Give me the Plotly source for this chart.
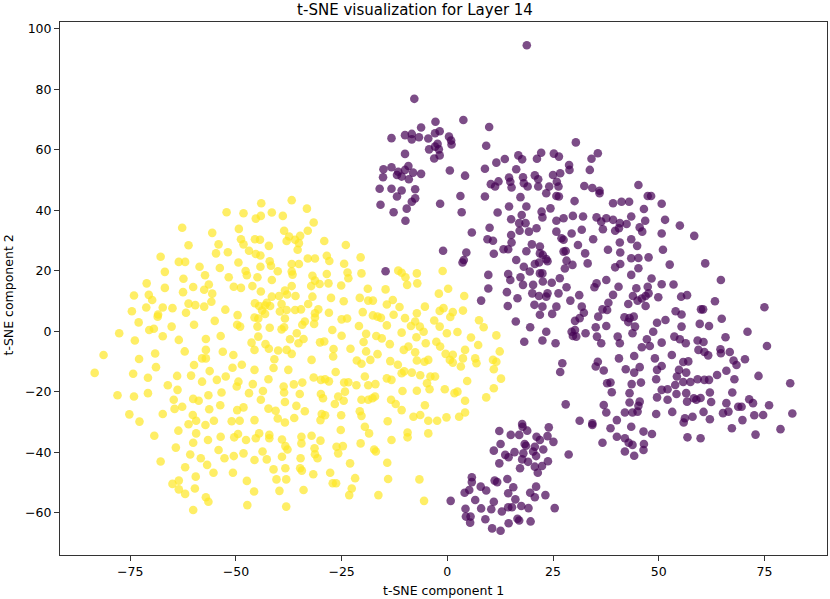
import plotly.graph_objects as go

# t-SNE coordinates, (component 1, component 2)
yellow_points = [
    (-52.2, 39.3), (-62.7, 34.2), (-55.6, 32.5), (-61.2, 28.4), (-54.1, 28.7), (-54.7, 25.7),
    (-51.9, 26.1), (-67.8, 24.6), (-63.5, 22.9), (-62.0, 22.9), (-58.6, 21.3), (-53.8, 20.9),
    (-66.8, 19.6), (-57.3, 18.5), (-62.4, 17.3), (-51.7, 17.8), (-71.1, 15.8), (-56.4, 15.4),
    (-60.1, 14.6), (-66.8, 14.3), (-57.5, 13.7), (-62.5, 12.9), (-55.6, 12.4), (-74.1, 11.8),
    (-70.6, 12.0), (-69.8, 10.3), (-55.8, 9.7), (-61.2, 9.1), (-59.6, 8.6), (-57.5, 8.1),
    (-71.2, 7.8), (-67.3, 7.8), (-65.0, 7.6), (-74.6, 6.6), (-61.8, 6.1), (-68.4, 5.5),
    (-68.5, 4.8), (-52.5, 7.1), (-73.0, 2.9), (-59.9, 2.1), (-55.0, 3.4), (-77.6, -0.7),
    (-70.5, 0.4), (-69.4, 0.8), (-65.2, 1.5), (-67.3, -1.7), (-73.9, -3.1), (-63.5, -2.9),
    (-57.1, -2.6), (-53.6, -1.6), (-62.1, -6.7), (-69.1, -7.4), (-57.1, -6.2), (-53.1, -6.8),
    (-81.3, -7.9), (-72.9, -9.2), (-58.0, -9.0), (-57.1, -9.0), (-59.9, -11.2), (-68.9, -11.9),
    (-56.2, -13.2), (-52.4, -15.0), (-83.4, -13.8), (-74.3, -14.1), (-70.8, -15.4), (-63.9, -14.8),
    (-60.6, -14.7), (-58.0, -16.7), (-54.5, -16.1), (-66.1, -17.9), (-63.8, -19.4), (-78.0, -21.2),
    (-74.1, -21.6), (-70.8, -20.5), (-56.5, -21.2), (-53.4, -20.3), (-64.7, -22.7), (-60.1, -22.4),
    (-58.8, -23.0), (-62.7, -25.0), (-64.5, -25.7), (-53.7, -24.5), (-56.3, -25.8), (-75.2, -27.5),
    (-67.3, -27.4), (-60.2, -27.7), (-72.8, -29.9), (-59.4, -29.6), (-55.2, -29.6), (-61.2, -30.8),
    (-57.2, -31.0),
    (-69.3, -34.6), (-67.8, -43.1), (-64.2, -38.5), (-63.6, -32.9), (-62.0, -45.0), (-60.1, -36.9),
    (-60.8, -40.8), (-59.4, -33.8), (-59.5, -48.1), (-59.7, -52.0), (-60.1, -59.1), (-65.0, -50.5),
    (-63.5, -49.4), (-63.5, -52.3), (-62.0, -53.8), (-58.3, -42.0), (-57.1, -54.9), (-56.5, -56.4),
    (-56.8, -44.2), (-56.6, -36.0), (-55.3, -46.8), (-54.1, -39.3), (-53.6, -34.9), (-52.7, -42.0),
    (-50.7, -46.8), (-50.4, -35.1), (-49.5, -34.0), (-50.5, -41.3), (-48.2, -40.4), (-47.6, -36.0),
    (-47.4, -49.5), (-47.3, -57.5), (-45.7, -53.0), (-45.6, -42.6), (-45.3, -35.4), (-44.5, -33.8),
    (-43.7, -39.8), (-42.7, -42.4), (-42.1, -34.3), (-42.1, -35.4), (-41.1, -45.7), (-40.4, -49.0),
    (-39.7, -52.8), (-39.1, -35.8), (-39.1, -41.5), (-38.3, -38.0), (-37.8, -39.1), (-38.3, -45.3),
    (-38.1, -49.0), (-38.1, -58.0), (-34.5, -34.9), (-34.5, -37.1), (-34.7, -42.0), (-34.8, -45.3),
    (-34.4, -46.1), (-34.0, -52.5), (-32.1, -34.6), (-31.7, -47.3), (-31.3, -40.7), (-31.4, -38.7),
    (-30.7, -42.0), (-30.0, -36.2), (-27.7, -46.8), (-27.1, -50.3), (-26.3, -50.3), (-26.2, -38.2),
    (-25.8, -40.4), (-25.2, -32.7), (-24.7, -38.0), (-23.0, -43.7), (-23.2, -54.2), (-22.6, -52.0),
    (-21.8, -48.6), (-20.5, -37.1), (-19.5, -31.6), (-18.5, -33.8), (-17.3, -39.1), (-16.9, -39.8),
    (-16.3, -54.2), (-14.2, -43.5), (-14.0, -48.9), (-13.2, -36.0), (-9.4, -33.5), (-9.4, -35.1),
    (-6.6, -49.0), (-4.5, -33.8), (-5.5, -56.1),
    (-36.8, 43.3), (-44.0, 42.3), (-33.2, 40.5), (-48.2, 39.0), (-41.5, 39.2), (-38.9, 38.1),
    (-44.1, 38.1), (-45.3, 37.2), (-31.6, 35.9), (-49.3, 33.8), (-38.6, 33.2), (-33.0, 33.2),
    (-34.8, 31.5), (-37.4, 31.3), (-45.5, 30.4), (-44.3, 30.2), (-48.8, 30.4), (-48.2, 28.7),
    (-36.0, 30.2), (-35.1, 29.1), (-38.0, 29.8), (-29.1, 29.8), (-24.0, 28.5), (-42.2, 28.2),
    (-35.4, 26.9), (-46.9, 26.6), (-45.3, 25.5), (-44.2, 25.0), (-28.5, 24.9), (-20.5, 24.4),
    (-33.0, 24.0), (-31.3, 24.0), (-27.9, 23.2), (-49.4, 22.7), (-42.0, 23.1), (-41.7, 21.6),
    (-36.8, 22.2), (-35.1, 22.2), (-24.4, 22.3), (-47.7, 19.9), (-44.2, 21.3), (-40.1, 19.8),
    (-36.8, 19.7), (-47.4, 18.5), (-36.6, 18.7), (-28.5, 18.9), (-23.6, 19.4), (-20.3, 19.1),
    (-44.9, 17.8), (-31.9, 18.3), (-23.4, 17.5), (-31.3, 16.7), (-30.2, 15.6), (-32.2, 14.9),
    (-41.5, 16.9), (-28.1, 15.8), (-50.5, 14.7), (-48.8, 14.3), (-46.1, 14.9), (-25.1, 15.1),
    (-18.8, 14.0), (-44.1, 13.1), (-36.8, 14.9), (-38.4, 13.4), (-39.8, 11.6), (-41.5, 11.4),
    (-37.9, 12.1), (-35.9, 11.6), (-31.9, 11.4), (-27.5, 11.0), (-20.7, 11.0), (-24.5, 9.9),
    (-45.5, 9.2), (-44.5, 8.3), (-42.7, 9.4), (-43.1, 8.5), (-41.9, 8.3), (-39.2, 9.0),
    (-32.9, 9.0), (-18.7, 10.1), (-43.8, 6.8), (-38.0, 7.0), (-39.6, 6.5), (-36.0, 7.0),
    (-34.6, 7.2), (-30.5, 7.2), (-28.0, 6.1), (-20.0, 6.3), (-49.6, 5.3), (-43.1, 5.7),
    (-38.4, 4.2), (-31.3, 5.9), (-31.3, 4.5), (-33.7, 3.2), (-25.0, 3.9), (-23.7, 4.2),
    (-34.3, 2.1), (-31.5, 2.4), (-44.7, 4.2), (-45.6, 4.5), (-44.9, 1.5), (-42.0, 1.1),
    (-38.6, 1.3), (-39.2, 0.6), (-49.7, 2.1), (-49.0, 1.5), (-20.9, 1.7), (-27.2, 0.4),
    (-35.6, -0.7), (-34.0, -2.6), (-44.7, -1.8), (-25.0, -1.5), (-19.2, -0.9), (-37.2, -2.7),
    (-46.3, -3.8), (-30.1, -3.7), (-29.1, -3.4), (-35.2, -4.0), (-19.8, -3.6), (-43.0, -4.3),
    (-42.2, -5.8), (-45.6, -6.2), (-26.9, -5.9), (-40.0, -6.4), (-38.0, -6.2), (-36.8, -7.5),
    (-22.9, -5.8), (-19.2, -6.7), (-50.6, -7.9), (-40.9, -9.3), (-32.1, -9.5), (-27.0, -8.4),
    (-21.4, -9.7), (-20.3, -10.8), (-48.6, -11.1), (-50.8, -12.1), (-41.1, -12.2), (-45.6, -12.8),
    (-37.6, -12.8), (-26.4, -13.5), (-19.5, -15.0), (-31.6, -15.3), (-29.9, -16.1), (-28.0, -16.6),
    (-28.9, -15.9), (-24.4, -17.0), (-23.4, -16.9), (-42.3, -15.9), (-49.4, -16.7), (-49.8, -18.3),
    (-46.0, -17.5), (-36.3, -17.6), (-34.3, -17.0), (-21.5, -17.9), (-18.7, -17.9), (-38.7, -18.3),
    (-24.2, -20.0), (-38.6, -20.3), (-43.6, -19.8), (-46.9, -20.5), (-34.9, -20.8), (-29.9, -20.8),
    (-25.8, -21.6), (-29.4, -22.2), (-20.3, -22.7), (-18.7, -22.7), (-44.1, -22.7), (-38.4, -23.4),
    (-24.5, -23.0), (-26.6, -24.1), (-35.7, -24.7), (-48.2, -25.2), (-49.7, -26.1), (-33.7, -26.5),
    (-42.3, -25.6), (-40.6, -26.3), (-29.7, -27.4), (-28.9, -27.8), (-25.1, -27.8), (-20.7, -26.5),
    (-20.3, -28.0), (-45.6, -29.4), (-51.0, -29.8), (-49.1, -29.6), (-40.1, -28.9), (-36.2, -28.7),
    (-30.0, -29.4), (-38.4, -30.2),
    (-11.6, 20.0), (-10.8, 19.3), (-9.9, 17.8), (-7.2, 19.1), (-9.5, 15.3), (-7.1, 15.8),
    (-1.1, 19.9), (-14.6, 13.8), (0.2, 14.0), (-2.0, 12.4), (4.0, 11.6), (-17.6, 10.1),
    (-12.9, 10.3), (-14.3, 8.8), (-11.3, 8.0), (-5.3, 8.1), (-0.9, 7.6), (-1.8, 6.7),
    (1.3, 6.3), (3.7, 6.8), (0.7, 4.7), (-17.6, 5.2), (-16.5, 4.8), (-15.7, 4.4),
    (-12.7, 5.4), (-10.0, 4.3), (-7.2, 5.9), (-7.6, 3.2), (-3.1, 3.5), (7.5, 3.6),
    (8.6, 1.3), (-14.3, 1.9), (-8.6, 1.7), (-6.5, 1.5), (-5.6, -0.2), (-1.8, 1.5),
    (-10.8, -0.5), (-0.1, -0.7), (2.4, -0.3), (11.6, -1.4), (5.6, -2.1), (-16.8, -1.6),
    (-15.5, -2.4), (-7.3, -2.0), (-13.6, -4.3), (-5.1, -4.0), (-2.6, -3.5), (-1.7, -5.1),
    (7.3, -4.6), (-9.2, -5.1), (-10.3, -6.2), (-7.6, -7.0), (4.2, -6.2), (12.4, -6.7),
    (-0.4, -7.5), (1.3, -7.8), (-16.5, -7.6), (-18.2, -9.5), (-13.5, -9.9), (-11.7, -11.1),
    (-7.2, -9.7), (-5.4, -10.1), (-4.5, -9.5), (0.6, -9.5), (1.3, -10.4), (3.7, -9.0),
    (6.6, -9.0), (6.9, -10.6), (10.8, -9.5), (11.6, -10.1), (-10.2, -13.3), (-8.4, -13.7),
    (-10.8, -13.9), (-6.4, -14.6), (-4.0, -15.0), (-2.9, -15.0), (3.2, -11.7), (11.0, -12.6),
    (12.7, -15.7), (-14.3, -15.6), (-13.2, -16.1), (-17.0, -17.5), (-4.8, -17.2), (4.7, -16.5),
    (-0.6, -19.2), (1.7, -20.5), (2.4, -20.0), (11.0, -18.9), (-10.6, -19.8), (-7.2, -19.7),
    (-4.2, -19.2), (-17.1, -21.6), (-17.7, -22.2), (-13.3, -22.7), (-12.2, -24.1), (9.2, -21.9),
    (-5.3, -24.5), (4.2, -23.0), (-10.8, -26.1), (4.2, -26.9), (2.8, -28.3), (-8.0, -28.3),
    (-6.4, -27.7), (-14.1, -29.8), (-4.5, -29.6), (-2.4, -29.6), (-0.2, -28.5),
]

purple_points = [
    (-11.9, 44.5), (-7.6, 43.9), (-8.4, 42.8), (-15.8, 41.8), (-12.7, 39.3), (-9.6, 40.5),
    (-9.9, 36.5), (-1.7, 42.1), (3.1, 44.7), (3.4, 39.3), (8.9, 44.5), (14.6, 41.2),
    (11.9, 39.2), (15.1, 37.0), (5.8, 32.6), (10.0, 34.2), (9.5, 30.4), (10.8, 29.9),
    (15.1, 31.8), (15.2, 29.3), (14.4, 27.1), (13.3, 27.1), (11.0, 25.6), (-1.0, 26.6),
    (4.5, 26.0), (3.9, 23.5), (3.6, 22.7), (9.7, 18.6), (14.4, 18.9), (14.9, 16.9),
    (-14.6, 19.8), (9.7, 14.1), (14.1, 12.9), (8.0, 10.1), (14.3, 8.3),
    (18.8, 94.5), (-7.8, 76.8), (-2.8, 69.2), (3.8, 69.8), (9.9, 67.5), (-6.2, 67.3),
    (-13.2, 63.8), (-10.0, 64.8), (-8.4, 65.2), (-8.4, 63.4), (-6.7, 64.1), (-4.5, 63.7),
    (-2.9, 65.4), (-1.8, 66.1), (0.4, 64.3), (0.9, 63.0), (1.0, 61.7), (-4.3, 60.1),
    (-2.9, 61.0), (-2.3, 61.9), (-2.0, 60.1), (-3.1, 57.1), (-1.8, 58.1), (-10.0, 58.6),
    (9.2, 61.3), (30.4, 62.4), (35.6, 58.8), (34.1, 57.0), (16.8, 58.1), (17.7, 56.8),
    (13.6, 56.9), (11.6, 55.7), (22.2, 59.0), (21.2, 57.0), (25.2, 58.7), (26.4, 57.7),
    (-15.1, 53.5), (-13.2, 54.2), (-15.2, 50.9), (-11.6, 52.7), (-11.9, 51.6), (-10.0, 53.3),
    (-9.2, 54.6), (-10.8, 51.1), (-9.1, 50.2), (-8.1, 52.4), (-6.2, 52.0), (0.6, 53.1),
    (4.2, 51.4), (8.9, 53.7), (16.3, 53.5), (28.8, 54.9), (28.9, 53.3), (33.7, 53.3),
    (26.7, 52.2), (25.0, 51.6), (20.7, 51.5), (14.6, 50.8), (14.9, 49.4), (17.9, 50.9),
    (18.1, 48.9), (21.5, 50.2), (21.5, 47.8), (19.0, 47.8), (12.1, 49.5), (10.3, 48.6),
    (11.3, 47.8), (15.2, 47.5), (25.9, 49.4), (26.3, 47.8), (24.1, 47.8), (32.4, 48.0),
    (34.3, 47.3), (36.0, 46.4), (45.2, 48.3), (-16.0, 47.1), (-13.2, 47.1), (-10.8, 46.5),
    (-7.6, 46.9),
    (23.4, 45.6), (25.8, 44.7), (26.4, 44.5), (36.0, 45.6), (47.4, 44.7), (48.2, 44.7),
    (17.3, 44.3), (30.1, 43.0), (39.2, 42.3), (41.2, 42.8), (43.0, 42.8), (18.7, 41.2),
    (24.4, 40.6), (22.3, 39.5), (46.5, 40.4), (50.7, 42.1), (17.6, 38.4), (22.5, 37.6),
    (25.8, 36.5), (27.5, 37.3), (29.7, 38.1), (32.1, 37.9), (35.3, 37.6), (37.6, 37.3),
    (39.2, 36.8), (43.5, 37.9), (46.8, 36.5), (36.4, 36.2), (40.8, 35.7), (42.4, 35.4),
    (18.5, 35.7), (17.0, 35.7), (19.3, 32.9), (21.1, 34.0), (17.1, 33.2), (25.8, 32.9),
    (29.4, 32.3), (31.8, 33.5), (36.8, 33.7), (39.7, 33.2), (40.6, 34.0), (45.5, 34.3),
    (46.1, 32.9), (50.7, 32.3), (27.0, 30.7), (27.5, 30.2), (34.5, 30.4), (43.5, 30.4),
    (40.8, 29.3), (44.9, 28.2), (20.0, 28.7), (21.9, 28.0), (30.9, 28.5), (38.0, 26.9),
    (40.9, 26.0), (27.5, 26.3), (28.0, 26.5), (18.7, 26.4), (21.9, 25.7), (22.6, 25.2),
    (23.4, 23.8), (32.6, 25.7), (43.5, 24.1), (45.2, 24.2), (47.6, 24.4), (51.0, 26.9),
    (16.3, 23.5), (18.1, 21.3), (20.7, 22.2), (21.7, 22.7), (23.7, 23.1), (28.2, 23.3),
    (29.6, 21.9), (33.2, 22.4), (27.8, 20.7), (39.7, 21.1), (40.9, 22.2), (45.2, 20.8),
    (19.5, 19.7), (21.9, 19.1), (22.5, 19.1), (43.5, 18.6), (26.6, 17.5), (24.7, 16.0),
    (17.3, 17.8), (17.9, 15.3), (20.3, 15.3), (22.6, 16.4), (35.3, 15.8), (37.6, 16.9),
    (34.8, 14.5), (40.5, 14.7), (48.3, 17.4), (50.7, 15.5), (44.7, 14.2), (47.4, 14.7),
    (16.6, 10.9), (20.1, 12.5), (21.7, 11.6), (23.4, 11.4), (23.7, 12.5), (26.3, 12.5),
    (28.2, 14.5), (31.2, 11.9), (39.2, 12.0), (43.9, 11.6), (46.0, 10.8), (46.9, 11.6),
    (47.6, 12.5), (49.9, 11.2), (42.8, 9.0), (45.0, 10.1), (46.9, 8.3), (38.1, 9.4),
    (29.1, 10.1), (20.6, 8.7), (22.5, 8.1), (25.8, 8.1), (21.9, 5.4), (24.8, 5.7),
    (31.8, 8.1), (32.3, 6.1), (36.7, 7.2), (37.8, 7.0), (35.7, 4.8), (41.9, 4.6),
    (43.1, 4.3), (44.1, 4.8), (31.3, 4.3), (30.2, 3.4), (16.2, 3.2), (49.6, 2.8),
    (42.8, 3.0), (19.6, 1.3), (23.4, -0.2), (30.2, 0.4), (29.4, -0.2), (29.7, -1.6),
    (30.5, -1.8), (32.7, -0.7), (35.1, 1.3), (37.6, 1.7), (35.4, -1.8), (43.8, -0.7),
    (44.4, 1.5), (48.7, -0.2), (47.2, -2.7), (40.3, -1.8), (40.8, -4.0), (22.5, -3.1),
    (25.6, -4.0), (18.2, -3.5), (36.4, -4.0), (46.0, -5.3), (47.9, -4.9), (50.7, -3.8),
    (40.6, -9.0), (44.2, -8.2), (49.1, -9.0), (35.6, -10.1), (27.2, -10.6), (26.7, -13.5),
    (35.1, -11.7), (37.0, -13.0), (42.2, -12.6), (44.2, -13.7), (45.5, -11.9), (49.6, -12.8),
    (50.7, -11.5), (49.4, -15.9), (37.8, -17.2), (38.6, -17.0), (38.9, -20.2), (43.6, -17.5),
    (45.8, -17.0), (43.1, -20.5), (50.7, -19.4), (49.6, -21.9), (28.0, -24.2), (37.0, -24.4),
    (43.1, -23.6), (45.5, -23.3), (45.2, -24.7), (37.6, -26.9), (42.0, -26.9), (43.8, -26.9),
    (45.0, -26.6), (49.4, -27.4), (31.3, -29.6), (34.3, -30.5), (40.1, -29.4), (17.7, -30.7),
    (51.5, 36.8), (55.0, 34.9), (58.4, 31.5), (52.6, 22.0), (61.0, 22.4), (64.7, 16.9),
    (53.5, 15.4), (55.3, 11.4), (56.7, 11.9), (63.3, 9.9), (60.0, 7.2), (60.5, 7.2),
    (54.0, 6.6), (55.4, 5.5), (75.0, 7.9), (64.9, 4.1), (51.6, 3.7), (55.4, 1.5),
    (59.7, 2.4), (61.9, 1.7), (71.0, -0.2), (53.7, -1.8), (55.0, -2.7), (56.4, -4.0),
    (59.2, -3.1), (60.6, -3.6), (75.6, -4.9), (65.8, -2.0), (53.1, -7.9), (59.4, -6.2),
    (60.8, -6.9), (61.7, -8.0), (64.6, -6.0), (64.7, -7.3), (66.8, -6.9), (67.7, -9.7),
    (68.4, -11.2), (70.4, -9.3), (55.8, -10.2), (57.0, -10.0), (54.8, -12.8), (56.5, -13.7),
    (54.3, -15.0), (63.8, -14.5), (66.0, -13.1), (73.6, -14.8), (67.9, -15.9), (81.1, -17.2),
    (59.2, -15.9), (60.8, -16.1), (61.9, -16.1), (57.5, -16.8), (55.8, -16.8), (53.9, -17.8),
    (52.1, -19.2), (54.2, -20.8), (56.5, -20.5), (62.1, -20.3), (67.4, -20.3), (52.1, -22.7),
    (56.7, -23.3), (58.3, -22.2), (59.9, -22.1), (58.9, -22.7), (62.4, -23.4), (66.0, -23.8),
    (68.8, -25.0), (69.6, -25.0), (71.4, -22.5), (72.3, -23.8), (76.1, -24.5), (53.2, -26.7),
    (58.0, -28.3), (60.6, -26.7), (65.2, -27.1), (66.5, -26.6), (62.1, -29.1), (56.2, -28.8),
    (55.9, -30.2), (69.8, -29.4), (72.6, -27.8), (74.7, -27.7), (81.6, -27.2),
    (34.3, -31.0), (38.6, -32.1), (43.5, -31.6), (46.4, -33.2), (48.4, -34.0), (40.1, -34.9),
    (42.0, -35.4), (42.9, -36.9), (43.8, -37.6), (36.7, -36.9), (42.0, -39.8), (44.2, -41.2),
    (46.4, -39.3), (46.5, -37.3), (56.8, -35.1), (59.9, -35.4), (67.3, -32.1), (72.9, -34.2),
    (78.8, -32.4),
    (12.3, -33.0), (15.0, -34.3), (17.0, -34.3), (17.8, -31.6), (18.9, -32.9), (24.0, -31.8),
    (21.1, -34.9), (23.7, -34.7), (21.9, -36.0), (25.1, -36.6), (12.6, -37.3), (11.0, -39.5),
    (13.7, -40.9), (14.5, -41.7), (15.9, -40.0), (18.0, -40.4), (20.3, -39.8), (18.6, -37.9),
    (18.3, -37.3), (21.0, -41.3), (22.7, -39.1), (20.7, -38.2), (17.7, -42.4), (19.1, -43.2),
    (23.8, -43.0), (28.7, -40.8), (12.3, -43.7), (17.2, -45.3), (20.7, -44.8), (22.4, -44.6),
    (21.4, -46.8), (5.8, -48.3), (5.8, -49.9), (11.2, -49.4), (11.8, -49.9), (14.2, -48.9),
    (15.6, -51.6), (4.1, -53.4), (5.2, -52.5), (7.9, -51.4), (9.2, -52.7), (14.4, -53.6),
    (19.6, -53.4), (21.0, -51.4), (23.2, -54.2), (0.8, -56.1), (6.6, -55.8), (11.0, -56.4),
    (16.1, -55.6), (20.7, -54.9), (4.3, -58.7), (4.4, -61.3), (5.5, -61.3), (5.4, -63.3),
    (8.0, -58.6), (10.4, -58.9), (12.9, -59.6), (14.4, -58.2), (15.3, -58.2), (17.5, -57.8),
    (19.2, -58.5), (25.4, -58.5), (9.0, -62.2), (10.6, -65.2), (12.6, -66.0), (14.5, -63.5),
    (16.6, -62.0), (17.0, -62.6), (19.7, -62.9),
]

x_ticks = [-75, -50, -25, 0, 25, 50, 75]
y_ticks = [-60, -40, -20, 0, 20, 40, 60, 80, 100]

W, H = 830, 599
ML, MR, MT, MB = 60, 3, 22, 44

fig = go.Figure()

# purple cluster first, yellow on top
for pts, color in [(purple_points, "#440154"), (yellow_points, "#fde725")]:
    fig.add_trace(go.Scatter(
        x=[p[0] for p in pts],
        y=[p[1] for p in pts],
        mode="markers",
        marker=dict(size=8.6, color=color, opacity=0.7, line=dict(width=0)),
        showlegend=False,
        hoverinfo="skip",
    ))

plot_w = W - ML - MR
plot_h = H - MT - MB

fig.update_layout(
    width=W,
    height=H,
    plot_bgcolor="white",
    paper_bgcolor="white",
    font=dict(family="DejaVu Sans", size=12.5, color="black"),
    title=dict(
        text="t-SNE visualization for Layer 14",
        x=0.5, xanchor="center",
        y=1 - 10 / H, yanchor="middle",
        font=dict(size=15, color="black"),
    ),
    margin=dict(l=ML, r=MR, t=MT, b=MB, autoexpand=False),
    annotations=[
        dict(text="t-SNE component 1", xref="paper", yref="paper",
             x=0.5, y=-(590 - (H - MB)) / plot_h,
             xanchor="center", yanchor="middle", showarrow=False,
             font=dict(size=12.5, color="black")),
        dict(text="t-SNE component 2", xref="paper", yref="paper",
             x=-(ML - 7.5) / plot_w, y=((H - MB) - 295) / plot_h,
             xanchor="center", yanchor="middle", textangle=-90, showarrow=False,
             font=dict(size=12.5, color="black")),
    ],
)

axis_style = dict(
    ticks="outside",
    ticklen=5,
    tickwidth=1,
    tickcolor="#333",
    showgrid=False,
    zeroline=False,
    showline=True,
    linecolor="#333",
    linewidth=1,
    mirror=True,
    automargin=False,
)

fig.update_xaxes(range=[-91.6, 89.8], tickvals=x_ticks, **axis_style)
fig.update_yaxes(range=[-74.0, 102.2], tickvals=y_ticks, **axis_style)

# the page body has a default 8px margin; drop it so the figure fills the window
fig.write_html(
    "out.html",
    config={"displayModeBar": False},
    post_script="document.body.style.margin='0';",
)
